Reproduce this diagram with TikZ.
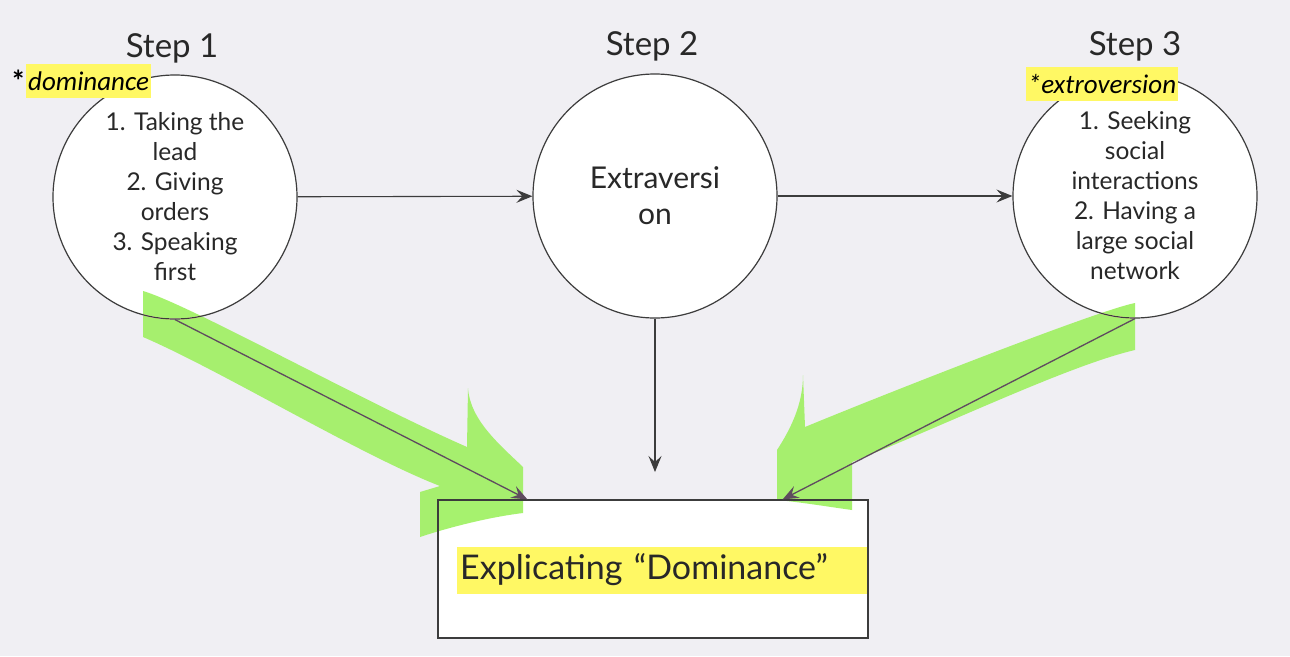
\documentclass[tikz,border=0pt]{standalone}
\usepackage{fontspec}
\setmainfont{Lato}
\newfontfamily\calib{Carlito}
\usetikzlibrary{arrows.meta,calc}
\definecolor{bgc}{RGB}{240,239,243}
\definecolor{hlyellow}{RGB}{255,248,100}
\definecolor{hlgreen}{RGB}{166,242,110}
\definecolor{ink}{RGB}{40,40,40}
\definecolor{linegray}{RGB}{60,60,60}
\definecolor{diagline}{RGB}{95,75,95}
\begin{document}
\begin{tikzpicture}[x=1pt,y=-1pt,
  stepcircle/.style={circle, draw=linegray, line width=1.2pt, fill=white, minimum size=244pt, inner sep=0pt, align=center, text=ink},
  steplabel/.style={font=\fontsize{33}{38}\selectfont, text=ink, anchor=base, inner sep=0pt},
  listtext/.style={font=\fontsize{24.5}{30}\selectfont},
  conn/.style={draw=linegray, line width=1.1pt, -{Stealth[length=16pt,width=13pt,inset=6pt]}},
  diag/.style={draw=diagline, line width=1.3pt, -{Stealth[length=16pt,width=13pt,inset=6pt]}},
  hl/.style={fill=hlyellow, inner ysep=0pt, inner xsep=2pt, minimum height=34pt, font=\calib\itshape\fontsize{27}{33}\selectfont, text=black},
  greenarrow/.style={fill=hlgreen, blend mode=darken},
]
\fill[bgc] (0,0) rectangle (1290,656);
\useasboundingbox (0,0) rectangle (1290,656);

% circles
\node[stepcircle, listtext] (c1) at (175,197) {1. Taking the\\lead\\2. Giving\\orders\\3. Speaking\\first};
\node[stepcircle, font=\fontsize{30}{36}\selectfont] (c2) at (655,196) {Extraversi\\on};
\node[stepcircle, listtext] (c3) at (1135,196) {1. Seeking\\social\\interactions\\2. Having a\\large social\\network};

% step labels
\node[steplabel] (s1) at (172,57) {Step 1};
\node[steplabel] (s2) at (652,55) {Step 2};
\node[steplabel] (s3) at (1135,55) {Step 3};

% highlighted notes
\node[hl, anchor=west] (dom) at (26,81) {dominance};
\node[anchor=east, inner sep=0pt, font=\calib\bfseries\fontsize{30}{33}\selectfont] (domstar) at (dom.west) {*};
\node[hl] (extro) at (1102,84) {*extroversion};

% bottom box
\node[draw=linegray, line width=1.3pt, fill=white, minimum width=430pt, minimum height=138pt, inner sep=0pt] (ebox) at (653,569) {};
\node[fill=hlyellow, anchor=west, minimum height=47pt, text width=404pt, inner xsep=3pt, inner ysep=0pt, align=left, font=\fontsize{34}{40}\selectfont, text=ink] (etext) at (457,570) {Explicating “Dominance”};

% green hand-drawn arrows
\begin{scope}[greenarrow]
\fill (143,291) .. controls (190,305) and (360,400) .. (467,447)
  -- (468,388) .. controls (470,420) and (500,445) .. (523,467)
  -- (523,513) .. controls (490,517) and (450,527) .. (420,537)
  -- (420,492) -- (440,486)
  .. controls (360,455) and (220,370) .. (143,337) -- cycle;
\fill (1135,303) .. controls (1095,311) and (870,400) .. (805,427)
  -- (803,375) .. controls (803,405) and (790,430) .. (777,450)
  -- (777,500) .. controls (800,502) and (830,507) .. (852,510)
  -- (852,462) .. controls (950,423) and (1070,365) .. (1135,350) -- cycle;
\end{scope}

% connectors
\coordinate (d2) at (655,472);
\draw[conn] (c1) -- (c2);
\draw[conn] (c2) -- (c3);
\draw[conn] (c2) -- (d2);
\draw[diag] (c1.south) -- ($(ebox.north west)+(90,0)$);
\draw[diag] (c3.south) -- ($(ebox.north east)+(-86,0)$);
\end{tikzpicture}
\end{document}
